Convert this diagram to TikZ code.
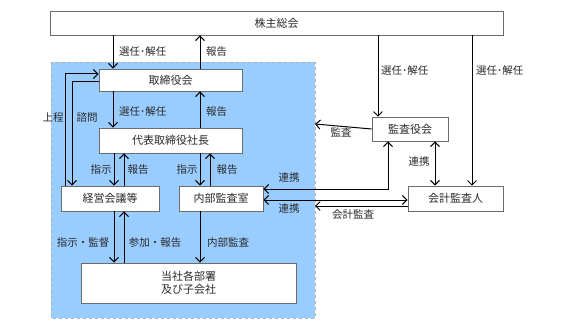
\documentclass[tikz,border=0pt]{standalone}
\usepackage{fontspec}
\setmainfont{Noto Sans CJK JP}
\usetikzlibrary{arrows.meta}
\definecolor{bluebg}{HTML}{99CCFF}
\definecolor{txt}{HTML}{2A2A2A}
\tikzset{
  box/.style={draw=gray!85!black, fill=white, line width=0.8pt, inner sep=0pt, text=txt, font=\fontsize{11}{13.5}\selectfont, align=center},
  lab/.style={font=\fontsize{10.5}{12}\selectfont, inner sep=0pt, text=txt},
  arr/.style={line width=1pt, -{Straight Barb[length=4.5pt,width=9pt]}},
  darr/.style={line width=1pt, {Straight Barb[length=4.5pt,width=9pt]}-{Straight Barb[length=4.5pt,width=9pt]}},
  ln/.style={line width=1pt}
}
\begin{document}
\begin{tikzpicture}[x=1pt,y=-1pt]
\useasboundingbox (0,0) rectangle (567,326);
\fill[white] (0,0) rectangle (567,326);
\draw[fill=bluebg, draw=gray!60, dashed, line width=0.5pt] (51,62) rectangle (315,318);

\node[box, minimum width=453pt, minimum height=24pt] (sh) at (276.5,23) {株主総会};
\node[box, minimum width=143pt, minimum height=22pt] (tk) at (170.5,80) {取締役会};
\node[box, minimum width=143pt, minimum height=25pt] (dh) at (170.5,140.5) {代表取締役社長};
\node[box, minimum width=98pt, minimum height=25pt] (kk) at (110,198.5) {経営会議等};
\node[box, minimum width=84pt, minimum height=25pt] (nb) at (221,198.5) {内部監査室};
\node[box, minimum width=215pt, minimum height=40pt] (ts) at (188.5,283) {当社各部署\\及び子会社};
\node[box, minimum width=76pt, minimum height=24pt] (ky) at (410,129) {監査役会};
\node[box, minimum width=95pt, minimum height=25pt] (kj) at (455.5,198.5) {会計監査人};

\coordinate (be1) at (315,124);
\coordinate (be2) at (315,206);

% shareholders <-> board
\draw[arr] (113,0 |- sh.south) -- (113,0 |- tk.north);
\draw[arr] (200,0 |- tk.north) -- (200,0 |- sh.south);
\node[lab, anchor=west] (l1) at (119,52) {選任･解任};
\node[lab, anchor=west] (l2) at (206,52) {報告};

% board <-> president
\draw[arr] (113,0 |- tk.south) -- (113,0 |- dh.north);
\draw[arr] (200,0 |- dh.north) -- (200,0 |- tk.south);
\node[lab, anchor=west] (l3) at (119,112) {選任･解任};
\node[lab, anchor=west] (l4) at (206,112) {報告};

% 上程 / 諮問
\draw[arr] (65,0 |- kk.north) -- (65,74) -- (tk.west |- 0,74);
\draw[arr] (tk.west |- 0,82) -- (72,82) -- (72,0 |- kk.north);
\node[lab] (l5) at (53,118) {上程};
\node[lab] (l6) at (87,118) {諮問};

% president -> committees
\draw[arr] (114,0 |- dh.south) -- (114,0 |- kk.north);
\draw[arr] (124,0 |- kk.north) -- (124,0 |- dh.south);
\node[lab] (l7) at (101,170) {指示};
\node[lab] (l8) at (138,170) {報告};
\draw[arr] (200,0 |- dh.south) -- (200,0 |- nb.north);
\draw[arr] (210,0 |- nb.north) -- (210,0 |- dh.south);
\node[lab] (l9) at (187,170) {指示};
\node[lab] (l10) at (227,170) {報告};

% to departments
\draw[arr] (114,0 |- kk.south) -- (114,0 |- ts.north);
\draw[arr] (124,0 |- ts.north) -- (124,0 |- kk.south);
\node[lab] (l11) at (83,243) {指示・監督};
\node[lab] (l12) at (155,243) {参加・報告};
\draw[arr] (200,0 |- nb.south) -- (200,0 |- ts.north);
\node[lab] (l13) at (228,243) {内部監査};

% audit relations
\draw[arr] (ky.west) -- (be1);
\node[lab] (l14) at (341,132) {監査};
\draw[darr] (nb.east |- 0,189) -- (388,189) -- (388,0 |- ky.south);
\draw[darr] (nb.east |- 0,200) -- (kj.west |- 0,200);
\node[lab] (l15) at (289,178) {連携};
\node[lab] (l16) at (289,209) {連携};
\draw[arr] (kj.west |- 0,206) -- (be2);
\node[lab] (l17) at (353,215) {会計監査};
\draw[darr] (435,0 |- ky.south) -- (435,0 |- kj.north);
\node[lab] (l18) at (419,162) {連携};

% shareholders -> auditors
\draw[arr, line width=0.8pt] (378,0 |- sh.south) -- (378,0 |- ky.north);
\node[lab, anchor=west] (l19) at (381,71) {選任･解任};
\draw[arr, line width=0.8pt] (472,0 |- sh.south) -- (472,0 |- kj.north);
\node[lab, anchor=west] (l20) at (476,71) {選任･解任};
\end{tikzpicture}
\end{document}
